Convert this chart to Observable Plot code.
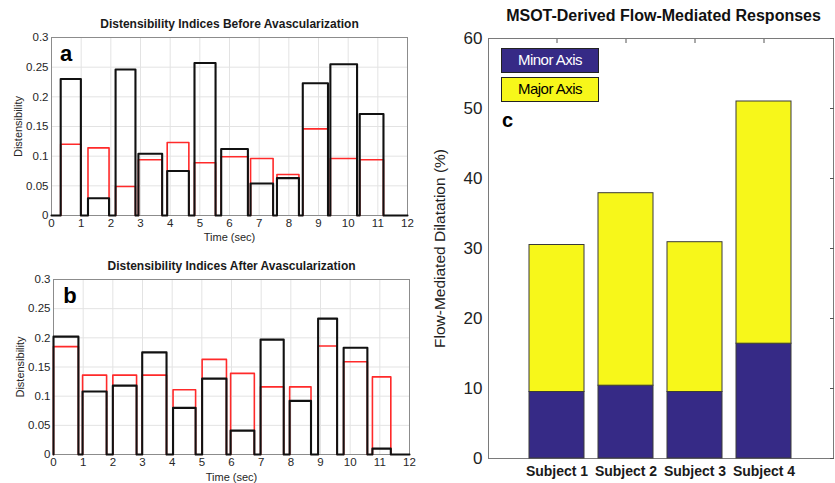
<!DOCTYPE html>
<html>
<head>
<meta charset="utf-8">
<script src="https://cdn.jsdelivr.net/npm/d3@7"></script>
<script src="https://cdn.jsdelivr.net/npm/@observablehq/plot@0.6"></script>
<style>
  html, body { margin: 0; padding: 0; background: #fff; }
  #wrap { position: relative; width: 835px; height: 483px; background: #fff; overflow: hidden; font-family: "Liberation Sans", Arial, Helvetica, sans-serif; }
  .panel { position: absolute; }
  .legbox { position: absolute; box-sizing: border-box; border: 1.5px solid #222; text-align: center; font-size: 15px; letter-spacing: -0.5px; }
</style>
</head>
<body>
<div id="wrap">
  <div class="panel" id="pa" style="left:0;top:0"></div>
  <div class="panel" id="pb" style="left:0;top:240px"></div>
  <div class="panel" id="pc" style="left:420px;top:0"></div>
  <div class="legbox" id="legMinor" style="left:501px;top:48px;width:98px;height:25px;line-height:22px;background:#362a86;color:#fff">Minor Axis</div>
  <div class="legbox" id="legMajor" style="left:501px;top:77px;width:98px;height:25px;line-height:22px;background:#f7f71a;color:#000">Major Axis</div>
</div>
<script>
// ---------- Data ----------
// Panel a: before avascularization (pulse start/end times in sec, heights)
const timeStartA = [0.31, 1.23, 2.16, 2.93, 3.90, 4.82, 5.72, 6.71, 7.60, 8.47, 9.40, 10.39];
const timeEndA   = [0.99, 1.94, 2.83, 3.73, 4.63, 5.53, 6.62, 7.47, 8.34, 9.32, 10.30, 11.19];
const blackA     = [0.230, 0.029, 0.246, 0.104, 0.075, 0.257, 0.112, 0.054, 0.063, 0.223, 0.255, 0.171];
const redA       = [0.120, 0.114, 0.049, 0.094, 0.123, 0.089, 0.099, 0.096, 0.069, 0.146, 0.096, 0.094];

// Panel b: after avascularization
const timeStartB = [0.00, 0.98, 2.00, 2.99, 4.03, 5.01, 5.97, 6.98, 7.96, 8.92, 9.78, 10.75];
const timeEndB   = [0.84, 1.79, 2.80, 3.81, 4.79, 5.83, 6.77, 7.76, 8.68, 9.56, 10.58, 11.37];
const blackB     = [0.202, 0.108, 0.118, 0.175, 0.080, 0.130, 0.041, 0.197, 0.092, 0.233, 0.183, 0.010];
const redB       = [0.185, 0.136, 0.136, 0.136, 0.111, 0.163, 0.139, 0.116, 0.116, 0.186, 0.159, 0.133];

const timeTicks = [0, 1, 2, 3, 4, 5, 6, 7, 8, 9, 10, 11, 12];
const distTicks = [0, 0.05, 0.1, 0.15, 0.2, 0.25, 0.3];
const timeMax = 12;

// Panel c: flow-mediated dilatation (%)
const subjects = ["Subject 1", "Subject 2", "Subject 3", "Subject 4"];
const minorAxis = [9.5, 10.4, 9.5, 16.4];
const majorAxis = [21.0, 27.5, 21.4, 34.6];
const fmdTicks = [0, 10, 20, 30, 40, 50, 60];
const seriesNames = ["Minor Axis", "Major Axis"];

// ---------- Helpers ----------
function steps(starts, ends, heights, tmax) {
  const pts = [{t: 0, v: 0}];
  starts.forEach((s, i) => {
    pts.push({t: s, v: 0}, {t: s, v: heights[i]}, {t: ends[i], v: heights[i]}, {t: ends[i], v: 0});
  });
  pts.push({t: tmax, v: 0});
  return pts;
}
function pulsesOnly(starts, ends, heights) {
  // red trace: each pulse drawn as its own segment group
  return starts.flatMap((s, i) => [
    {t: s, v: 0, k: i}, {t: s, v: heights[i], k: i}, {t: ends[i], v: heights[i], k: i}, {t: ends[i], v: 0, k: i}
  ]);
}

const FONT = "Liberation Sans, Arial, Helvetica, sans-serif";
const fmt = d3.format("~g");
const noLabel = () => "";

function distPanel({starts, ends, black, red, title, letter, mt, mb, ml, mr, h, xlabDy, letterDx, letterDy}) {
  return Plot.plot({
    width: 420, height: h,
    marginLeft: ml, marginRight: mr, marginTop: mt, marginBottom: mb,
    x: {domain: [0, timeMax]},
    y: {domain: [0, 0.3]},
    style: {fontFamily: FONT, fontSize: "11px", color: "#262626", background: "transparent", overflow: "visible"},
    marks: [
      Plot.gridX(timeTicks, {stroke: "#e3e3e3", strokeOpacity: 1}),
      Plot.gridY(distTicks, {stroke: "#e3e3e3", strokeOpacity: 1}),
      Plot.frame({stroke: "#8c8c8c", strokeWidth: 1}),
      Plot.line(pulsesOnly(starts, ends, red), {x: "t", y: "v", z: "k", stroke: "#ff2a2a", strokeWidth: 1.6, curve: "linear"}),
      Plot.line(steps(starts, ends, black, timeMax), {x: "t", y: "v", stroke: "#111", strokeWidth: 2.1, curve: "linear"}),
      Plot.axisX(timeTicks, {tickSize: 0, tickPadding: 3, label: null, fontSize: 11.5}),
      Plot.axisY(distTicks, {tickSize: 0, tickPadding: 3, tickFormat: fmt, label: null, fontSize: 11.5}),
      Plot.text(["Time (sec)"], {frameAnchor: "bottom", dy: xlabDy, textAnchor: "middle", lineAnchor: "middle", fontSize: 11}),
      Plot.text(["Distensibility"], {frameAnchor: "left", dx: -33, rotate: -90, textAnchor: "middle", lineAnchor: "middle", fontSize: 11}),
      Plot.text([title], {frameAnchor: "top", dy: -13, textAnchor: "middle", lineAnchor: "middle", fontSize: 12, fontWeight: "bold", fill: "#1a1a1a"}),
      Plot.text([letter], {frameAnchor: "top-left", dx: letterDx, dy: letterDy, textAnchor: "middle", lineAnchor: "middle", fontSize: 22, fontWeight: "bold", fill: "#000"})
    ]
  });
}

document.getElementById("pa").append(distPanel({
  starts: timeStartA, ends: timeEndA, black: blackA, red: redA,
  title: "Distensibility Indices Before Avascularization", letter: "a",
  h: 240, mt: 37, mb: 25, ml: 51, mr: 13, xlabDy: 21.5, letterDx: 14.5, letterDy: 16
}));

document.getElementById("pb").append(distPanel({
  starts: timeStartB, ends: timeEndB, black: blackB, red: redB,
  title: "Distensibility Indices After Avascularization", letter: "b",
  h: 243, mt: 39, mb: 29, ml: 53, mr: 11, xlabDy: 23, letterDx: 16.5, letterDy: 16
}));

// Panel c
const fmdData = subjects.flatMap((s, i) => [
  {subject: s, series: seriesNames[0], value: minorAxis[i]},
  {subject: s, series: seriesNames[1], value: majorAxis[i]}
]);

document.getElementById("pc").append(Plot.plot({
  width: 415, height: 483,
  marginLeft: 68, marginRight: 2, marginTop: 38, marginBottom: 25,
  x: {domain: subjects, paddingInner: 0.2, paddingOuter: 0.6},
  y: {domain: [0, 60]},
  color: {domain: seriesNames, range: ["#362a86", "#f7f71a"]},
  style: {fontFamily: FONT, fontSize: "17px", color: "#222", background: "transparent", overflow: "visible"},
  marks: [
    Plot.frame({stroke: "#7a7a7a", strokeWidth: 1}),
    Plot.barY(fmdData, {x: "subject", y: "value", fill: "series", stroke: "#3a3a3a", strokeWidth: 1}),
    Plot.axisX(subjects, {tickSize: 0, tickPadding: 8, label: null, fontSize: 14, fontWeight: "bold", fill: "#1a1a1a"}),
    Plot.axisX(subjects, {anchor: "top", tickSize: -4, text: null, tickFormat: noLabel, label: null, stroke: "#555"}),
    Plot.axisY(fmdTicks, {tickSize: 0, tickPadding: 6, label: null, fontSize: 17}),
    Plot.axisY(fmdTicks, {anchor: "right", tickSize: -4, text: null, tickFormat: noLabel, label: null, stroke: "#555"}),
    Plot.text(["Flow-Mediated Dilatation (%)"], {frameAnchor: "left", dx: -48, rotate: -90, textAnchor: "middle", lineAnchor: "middle", fontSize: 15.5, fill: "#222"}),
    Plot.text(["MSOT-Derived Flow-Mediated Responses"], {frameAnchor: "top", dx: 2.5, dy: -23, textAnchor: "middle", lineAnchor: "middle", fontSize: 16, fontWeight: "bold", fill: "#111"}),
    Plot.text(["c"], {frameAnchor: "top-left", dx: 19, dy: 82, textAnchor: "middle", lineAnchor: "middle", fontSize: 20, fontWeight: "bold", fill: "#000"})
  ]
}));
</script>
</body>
</html>
